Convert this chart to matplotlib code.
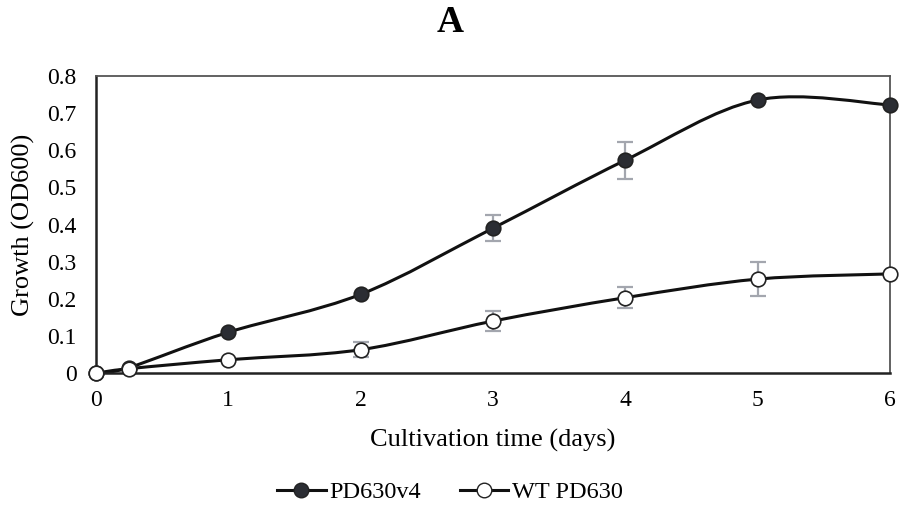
import numpy as np
import matplotlib
matplotlib.use("Agg")
import matplotlib.pyplot as plt
from matplotlib.path import Path
from matplotlib.patches import PathPatch
from matplotlib.lines import Line2D

plt.rcParams['font.family'] = ['Liberation Serif', 'DejaVu Serif']

days = [0, 0.25, 1, 2, 3, 4, 5, 6]
pd630v4 = [0.0, 0.015, 0.11, 0.212, 0.39, 0.573, 0.735, 0.722]
pd630v4_err = [0, 0, 0, 0, 0.035, 0.05, 0, 0]
wt_pd630 = [0.0, 0.012, 0.036, 0.063, 0.14, 0.203, 0.253, 0.267]
wt_pd630_err = [0, 0, 0, 0.02, 0.027, 0.028, 0.045, 0]
xticks = [0, 1, 2, 3, 4, 5, 6]
yticks = [0, 0.1, 0.2, 0.3, 0.4, 0.5, 0.6, 0.7, 0.8]
ytick_labels = ['0', '0.1', '0.2', '0.3', '0.4', '0.5', '0.6', '0.7', '0.8']


def smooth_path(x, y):
    """Cardinal Bezier curve through the points (spreadsheet-style smoothing)."""
    pts = np.column_stack([x, y]).astype(float)
    n = len(pts)
    verts = [pts[0]]
    codes = [Path.MOVETO]
    for i in range(n - 1):
        p0 = pts[i - 1] if i > 0 else pts[i]
        p1 = pts[i]
        p2 = pts[i + 1]
        p3 = pts[i + 2] if i + 2 < n else pts[i + 1]
        c1 = p1 + (p2 - p0) / 6.0
        c2 = p2 - (p3 - p1) / 6.0
        verts += [c1, c2, p2]
        codes += [Path.CURVE4] * 3
    return Path(verts, codes)


fig = plt.figure(figsize=(9, 5.27), dpi=100)
ax = fig.add_axes([0.1067, 0.292, 0.882, 0.564])

err_color = '#a3a6ae'
for ys, err, face in [(pd630v4, pd630v4_err, '#2b2d33'), (wt_pd630, wt_pd630_err, 'white')]:
    ax.add_patch(PathPatch(smooth_path(days, ys), facecolor='none',
                           edgecolor='#111111', lw=2.2, zorder=2))
    xs_e = [d for d, e in zip(days, err) if e > 0]
    ys_e = [v for v, e in zip(ys, err) if e > 0]
    es = [e for e in err if e > 0]
    ax.errorbar(xs_e, ys_e, yerr=es, fmt='none', ecolor=err_color,
                elinewidth=1.6, capsize=5.5, capthick=1.6, zorder=3)
    ax.plot(days, ys, linestyle='none', marker='o', markersize=10.5,
            markerfacecolor=face, markeredgecolor='#222222',
            markeredgewidth=1.2, zorder=4, clip_on=False)

ax.set_xlim(0, 6)
ax.set_ylim(0, 0.8)
ax.set_xticks(xticks)
ax.set_xticklabels([str(t) for t in xticks])
ax.set_yticks(yticks)
ax.set_yticklabels(ytick_labels)
ax.tick_params(axis='both', length=0, labelsize=17, colors='black')
ax.tick_params(axis='x', pad=12)
ax.tick_params(axis='y', pad=14)
for side in ['top', 'right']:
    ax.spines[side].set_color('#555555')
    ax.spines[side].set_linewidth(1.3)
for side in ['left', 'bottom']:
    ax.spines[side].set_color('#222222')
    ax.spines[side].set_linewidth(1.8)

ax.set_xlabel('Cultivation time (days)', fontsize=19, labelpad=13)
ax.set_ylabel('Growth (OD600)', fontsize=19, labelpad=9)
fig.text(0.5, 0.958, 'A', ha='center', va='center', fontsize=27, fontweight='bold')

handles = [
    Line2D([], [], color='#111111', lw=2.2, marker='o', markersize=10.5,
           markerfacecolor='#2b2d33', markeredgecolor='#222222', label='PD630v4'),
    Line2D([], [], color='#111111', lw=2.2, marker='o', markersize=10.5,
           markerfacecolor='white', markeredgecolor='#222222', label='WT PD630'),
]
fig.legend(handles=handles, loc='center', bbox_to_anchor=(0.5, 0.066), ncol=2,
           frameon=False, fontsize=17.5, handlelength=2.0, handletextpad=0.15,
           columnspacing=1.6)

fig.savefig('out.png', dpi=100)
